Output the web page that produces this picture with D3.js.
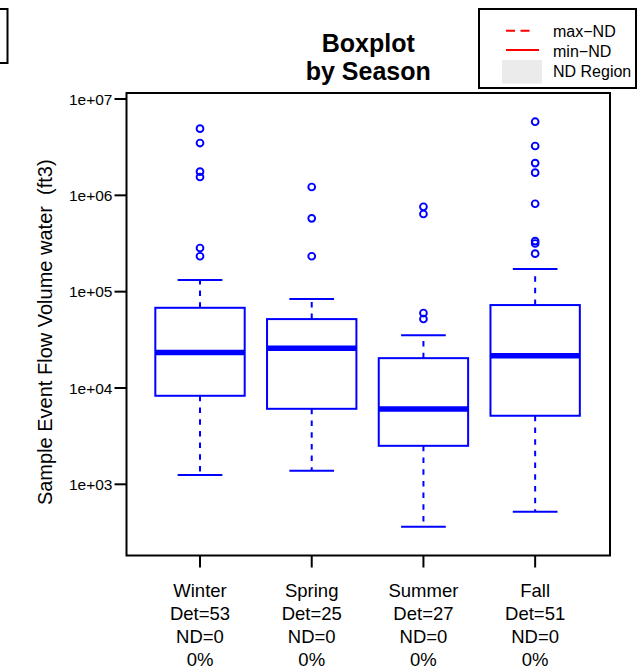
<!DOCTYPE html>
<html>
<head>
<meta charset="utf-8">
<script src="https://cdn.jsdelivr.net/npm/d3@7"></script>
<style>
  html, body { margin: 0; padding: 0; background: #fff; }
  svg { display: block; font-family: "Liberation Sans", Arial, Helvetica, sans-serif; }
  text { white-space: pre; }
</style>
</head>
<body>
<svg id="chart" width="638" height="670"></svg>
<script>
// ---- data ----
const seasons = ["Winter", "Spring", "Summer", "Fall"];
const detCounts = [53, 25, 27, 51];
const ndCounts = [0, 0, 0, 0];
const ndPercent = ["0%", "0%", "0%", "0%"];
const lowerWhisker = [1250, 1380, 362, 519];
const q1 = [8300, 6080, 2510, 5150];
const medians = [23400, 25900, 6040, 21600];
const q3 = [68000, 51900, 20400, 72600];
const upperWhisker = [132000, 83800, 35200, 172000];
const outliers = [
  [4920000, 3490000, 1760000, 1550000, 284000, 233000],
  [1220000, 577000, 233000],
  [760000, 640000, 60000, 52000],
  [5810000, 3250000, 2160000, 1720000, 818000, 335000, 316000, 248000]
];
const yTicks = [1e3, 1e4, 1e5, 1e6, 1e7];
const yTickLabels = ["1e+03", "1e+04", "1e+05", "1e+06", "1e+07"];
const legendLabels = ["max\u2212ND", "min\u2212ND", "ND Region"];
const titleLines = ["Boxplot", "by Season"];
const yAxisTitle = "Sample Event Flow Volume water  (ft3)";

// ---- layout ----
const svg = d3.select("#chart");
const plot = { left: 126.5, right: 610, top: 93, bottom: 555.5 };
const blue = "#0000FF";

const x = d3.scaleLinear().domain([0.342, 4.67]).range([plot.left, plot.right]);
const y = d3.scaleLog().domain([Math.pow(10, 2.261), Math.pow(10, 7.0623)]).range([plot.bottom, plot.top]);

const boxHalf = 0.4, capHalf = 0.2;

// boxes
const g = svg.append("g");
seasons.forEach((s, i) => {
  const cx = i + 1;
  g.append("line")
    .attr("x1", x(cx)).attr("x2", x(cx))
    .attr("y1", y(q3[i])).attr("y2", y(upperWhisker[i]))
    .attr("stroke", blue).attr("stroke-width", 2).attr("stroke-dasharray", "5.5,6.2");
  g.append("line")
    .attr("x1", x(cx)).attr("x2", x(cx))
    .attr("y1", y(q1[i])).attr("y2", y(lowerWhisker[i]))
    .attr("stroke", blue).attr("stroke-width", 2).attr("stroke-dasharray", "5.5,6.2");
  [upperWhisker[i], lowerWhisker[i]].forEach(v => {
    g.append("line")
      .attr("x1", x(cx - capHalf)).attr("x2", x(cx + capHalf))
      .attr("y1", y(v)).attr("y2", y(v))
      .attr("stroke", blue).attr("stroke-width", 2);
  });
  g.append("rect")
    .attr("x", x(cx - boxHalf)).attr("width", x(cx + boxHalf) - x(cx - boxHalf))
    .attr("y", y(q3[i])).attr("height", y(q1[i]) - y(q3[i]))
    .attr("fill", "none").attr("stroke", blue).attr("stroke-width", 2);
  g.append("line")
    .attr("x1", x(cx - boxHalf)).attr("x2", x(cx + boxHalf))
    .attr("y1", y(medians[i])).attr("y2", y(medians[i]))
    .attr("stroke", blue).attr("stroke-width", 5.5);
  g.selectAll(null).data(outliers[i]).enter().append("circle")
    .attr("cx", x(cx)).attr("cy", d => y(d)).attr("r", 3.4)
    .attr("fill", "none").attr("stroke", blue).attr("stroke-width", 1.9);
});

// frame
svg.append("rect")
  .attr("x", plot.left).attr("y", plot.top)
  .attr("width", plot.right - plot.left).attr("height", plot.bottom - plot.top)
  .attr("fill", "none").attr("stroke", "#000").attr("stroke-width", 2);

// y axis ticks
const yAxisG = svg.append("g");
yTicks.forEach((t, i) => {
  yAxisG.append("line")
    .attr("x1", plot.left - 12).attr("x2", plot.left)
    .attr("y1", y(t)).attr("y2", y(t))
    .attr("stroke", "#000").attr("stroke-width", 2);
  yAxisG.append("text")
    .attr("x", plot.left - 14).attr("y", y(t)).attr("dy", "0.36em")
    .attr("text-anchor", "end").attr("font-size", "15.5px")
    .text(yTickLabels[i]);
});

// x axis ticks & labels
const xAxisG = svg.append("g");
seasons.forEach((s, i) => {
  const px = x(i + 1);
  xAxisG.append("line")
    .attr("x1", px).attr("x2", px)
    .attr("y1", plot.bottom).attr("y2", plot.bottom + 12)
    .attr("stroke", "#000").attr("stroke-width", 2);
  const lines = [s, "Det=" + detCounts[i], "ND=" + ndCounts[i], ndPercent[i]];
  lines.forEach((l, j) => {
    xAxisG.append("text")
      .attr("x", px).attr("y", 597 + j * 23)
      .attr("text-anchor", "middle").attr("font-size", "18.5px")
      .text(l);
  });
});

// title
titleLines.forEach((t, j) => {
  svg.append("text")
    .attr("x", (plot.left + plot.right) / 2).attr("y", 51.7 + j * 28.3)
    .attr("text-anchor", "middle").attr("font-size", "25px").attr("font-weight", "bold")
    .text(t);
});

// y axis title
svg.append("text")
  .attr("transform", `translate(51.5, ${(plot.top + plot.bottom) / 2 + 8}) rotate(-90)`)
  .attr("text-anchor", "middle").attr("font-size", "20px")
  .text(yAxisTitle);

// left partial box (off-canvas legend)
svg.append("rect")
  .attr("x", -50).attr("y", 9).attr("width", 57.5).attr("height", 54)
  .attr("fill", "none").attr("stroke", "#000").attr("stroke-width", 2);

// legend
const lg = svg.append("g");
lg.append("rect")
  .attr("x", 479).attr("y", 9).attr("width", 157).attr("height", 79)
  .attr("fill", "#fff").attr("stroke", "#000").attr("stroke-width", 2);
lg.append("line").attr("x1", 506).attr("x2", 531).attr("y1", 30.7).attr("y2", 30.7)
  .attr("stroke", "#FF0000").attr("stroke-width", 2).attr("stroke-dasharray", "9,5.5");
lg.append("line").attr("x1", 506).attr("x2", 539).attr("y1", 50).attr("y2", 50)
  .attr("stroke", "#FF0000").attr("stroke-width", 2);
lg.append("rect").attr("x", 502).attr("y", 60).attr("width", 40).attr("height", 23.5)
  .attr("fill", "#EBEBEB");
legendLabels.forEach((t, j) => {
  lg.append("text").attr("x", 553).attr("y", 36.5 + j * 20)
    .attr("font-size", "16px").text(t);
});
</script>
</body>
</html>
